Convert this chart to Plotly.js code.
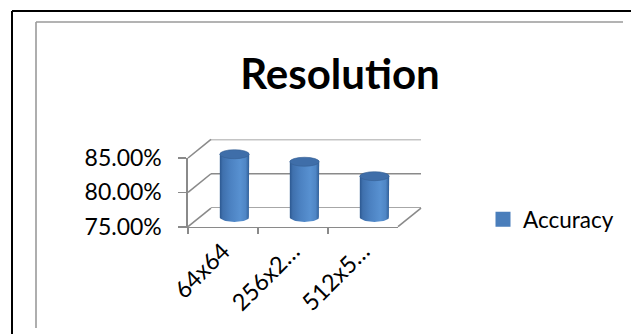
<!DOCTYPE html>
<html>
<head>
<meta charset="utf-8">
<script src="https://cdn.plot.ly/plotly-3.0.1.min.js"></script>
<style>
  html, body { margin: 0; padding: 0; background: #ffffff; }
  #chart { width: 631px; height: 334px; }
</style>
</head>
<body>
<div id="chart"></div>
<script>
// ---- data ----
const categories = ['64x64', '256x2…', '512x5…'];
const accuracy = [0.842, 0.831, 0.810];
const yTicks = [0.75, 0.80, 0.85];
const seriesName = 'Accuracy';
const chartTitle = 'Resolution';

// ---- page geometry (pixels) ----
const W = 631, H = 334;
const FRONT = { left: 188, right: 398, bottom: 226.7, top: 158 };   // front face of the 3-D box
const DEPTH = { dx: 23, dy: 18.6 };                                  // offset front -> back wall
const Y_MIN = yTicks[0], Y_MAX = yTicks[yTicks.length - 1];
const PX_PER_UNIT = (FRONT.bottom - FRONT.top) / (Y_MAX - Y_MIN);
const CAT_PX = (FRONT.right - FRONT.left) / categories.length;      // pixels per category
const CYL_W = 0.42;        // cylinder width in category units
const CAP_RY = 4.5;        // half-height of the cylinder ellipses, px
const GRID = '#8a8a8a';
const FONT = 'Lato, "Open Sans", sans-serif';

const px = x => x / W;
const py = y => 1 - y / H;

// mid-depth plane that carries the cylinders (extended range so the bottom arcs are not clipped)
const MID_RANGE = [Y_MIN - 0.01, Y_MAX + 0.01];
const midLeft = FRONT.left + DEPTH.dx / 2;
const midBase = FRONT.bottom - DEPTH.dy / 2;
const midLo = midBase + (Y_MIN - MID_RANGE[0]) * PX_PER_UNIT;
const midHi = midBase - (MID_RANGE[1] - Y_MIN) * PX_PER_UNIT;

const idx = categories.map((c, i) => i);
const ryUnits = CAP_RY / PX_PER_UNIT;

// legend-bearing solid cylinder bodies (outline kept inside the shaded bodies)
const EDGE_PX = 3;
const barBase = Y_MIN + (EDGE_PX / 2) / PX_PER_UNIT;
const bars = {
  type: 'bar', name: seriesName, xaxis: 'x3', yaxis: 'y3',
  x: idx, y: accuracy.map(v => v - barBase), base: barBase,
  width: CYL_W - (EDGE_PX + 1) / CAT_PX,
  marker: { color: '#4a7ebb', line: { color: '#4a7ebb', width: EDGE_PX } },
  hoverinfo: 'skip', showlegend: true
};

// shaded cylinder bodies: side walls plus the lower half of the base ellipse
const shades = accuracy.map((v, i) => {
  const xs = [i - CYL_W / 2, i - CYL_W / 2, i + CYL_W / 2, i + CYL_W / 2];
  const ys = [Y_MIN, v, v, Y_MIN];
  for (let k = 0; k <= 24; k++) {
    const t = Math.PI * k / 24;
    xs.push(i + (CYL_W / 2) * Math.cos(t));
    ys.push(Y_MIN - ryUnits * Math.sin(t));
  }
  return {
    type: 'scatter', mode: 'lines', xaxis: 'x3', yaxis: 'y3',
    x: xs, y: ys, fill: 'toself', line: { width: 0, color: 'rgba(0,0,0,0)' },
    fillgradient: {
      type: 'horizontal',
      colorscale: [[0, '#2c5890'], [0.1, '#3f70ad'], [0.35, '#4b81c1'],
                   [0.7, '#5891d1'], [0.88, '#4f86c5'], [1, '#2f5d96']]
    },
    hoverinfo: 'skip', showlegend: false
  };
});

// elliptical tops of the cylinders
const caps = accuracy.map((v, i) => ({
  type: 'circle', xref: 'x3', yref: 'y3', layer: 'above',
  x0: i - CYL_W / 2, x1: i + CYL_W / 2,
  ysizemode: 'pixel', yanchor: v, y0: -CAP_RY, y1: CAP_RY,
  fillcolor: '#3f6ea9', line: { color: '#365f94', width: 0.6 }
}));

// back-wall gridlines
const backGrid = yTicks.map(v => ({
  type: 'line', xref: 'x2', yref: 'y2', layer: 'below',
  x0: -0.5, x1: categories.length - 0.5, y0: v, y1: v,
  line: { color: GRID, width: 1.6 }
}));

// side-wall and floor edges joining the front face to the back wall
const yFront = v => FRONT.bottom - (v - Y_MIN) * PX_PER_UNIT;
const line = (x0, y0, x1, y1, color, width) => ({
  type: 'line', xref: 'paper', yref: 'paper', layer: 'below',
  x0: px(x0), y0: py(y0), x1: px(x1), y1: py(y1), line: { color, width }
});
const walls = yTicks.map(v => line(FRONT.left, yFront(v), FRONT.left + DEPTH.dx, yFront(v) - DEPTH.dy, GRID, 1.6));
walls.push(line(FRONT.right, FRONT.bottom, FRONT.right + DEPTH.dx, FRONT.bottom - DEPTH.dy, GRID, 1.6));

// chart frame
const frame = [
  line(12, 11, 631, 11, '#000000', 2),
  line(12, 11, 12, 334, '#000000', 2),
  line(36, 22, 623, 22, '#9a9a9a', 1.6),
  line(36, 22, 36, 328, '#9a9a9a', 1.6)
];

const layout = {
  width: W, height: H, autosize: false,
  margin: { l: 0, r: 0, t: 0, b: 0, pad: 0 },
  paper_bgcolor: '#ffffff', plot_bgcolor: 'rgba(0,0,0,0)',
  font: { family: FONT, color: '#000000' },
  hovermode: false,
  title: {
    text: chartTitle, xref: 'paper', yref: 'paper',
    x: px(340), xanchor: 'center', y: py(74), yanchor: 'middle',
    font: { family: FONT, size: 42, weight: 700, color: '#000000' }
  },
  showlegend: true,
  legend: {
    x: px(483), xanchor: 'left', y: py(219.5), yanchor: 'middle',
    bgcolor: 'rgba(0,0,0,0)', borderwidth: 0,
    font: { family: FONT, size: 22.5, color: '#000000' }
  },
  // front face: value axis and category axis
  xaxis: {
    domain: [px(FRONT.left), px(FRONT.right)], anchor: 'y',
    type: 'category', categoryorder: 'array', categoryarray: categories,
    range: [-0.5, categories.length - 0.5],
    tickmode: 'array', tickvals: categories, ticktext: categories,
    tickson: 'boundaries', ticks: 'outside', ticklen: 6, tickwidth: 1.6, tickcolor: GRID,
    showline: true, linecolor: GRID, linewidth: 1.6,
    showgrid: false, zeroline: false, tickangle: -45,
    tickfont: { family: FONT, size: 23.5, color: '#000000' }, fixedrange: true
  },
  yaxis: {
    domain: [py(FRONT.bottom), py(FRONT.top)], anchor: 'x',
    range: [Y_MIN, Y_MAX], tickmode: 'array', tickvals: yTicks, tickformat: '.2%',
    ticks: 'outside', ticklen: 8, tickwidth: 1.6, tickcolor: GRID,
    ticklabelstandoff: 12,
    showline: true, linecolor: GRID, linewidth: 1.6,
    showgrid: false, zeroline: false,
    tickfont: { family: FONT, size: 23, color: '#000000' }, fixedrange: true
  },
  // back wall
  xaxis2: {
    domain: [px(FRONT.left + DEPTH.dx), px(FRONT.right + DEPTH.dx)], anchor: 'y2',
    range: [-0.5, categories.length - 0.5], visible: false, fixedrange: true
  },
  yaxis2: {
    domain: [py(FRONT.bottom - DEPTH.dy), py(FRONT.top - DEPTH.dy)], anchor: 'x2',
    range: [Y_MIN, Y_MAX], visible: false, fixedrange: true
  },
  // mid-depth plane for the cylinders
  xaxis3: {
    domain: [px(midLeft), px(midLeft + FRONT.right - FRONT.left)], anchor: 'y3',
    range: [-0.5, categories.length - 0.5], visible: false, fixedrange: true
  },
  yaxis3: {
    domain: [py(midLo), py(midHi)], anchor: 'x3',
    range: MID_RANGE, visible: false, fixedrange: true
  },
  shapes: [...frame, ...walls, ...backGrid, ...caps]
};

// empty traces so the front and back-wall axes exist
const frontAxes = {
  type: 'scatter', mode: 'markers', x: [], y: [], xaxis: 'x', yaxis: 'y',
  showlegend: false, hoverinfo: 'skip'
};
const backWall = {
  type: 'scatter', mode: 'markers', x: [], y: [], xaxis: 'x2', yaxis: 'y2',
  showlegend: false, hoverinfo: 'skip'
};

Plotly.newPlot('chart', [frontAxes, backWall, bars, ...shades], layout,
  { displayModeBar: false, staticPlot: true, responsive: false });
</script>
</body>
</html>
